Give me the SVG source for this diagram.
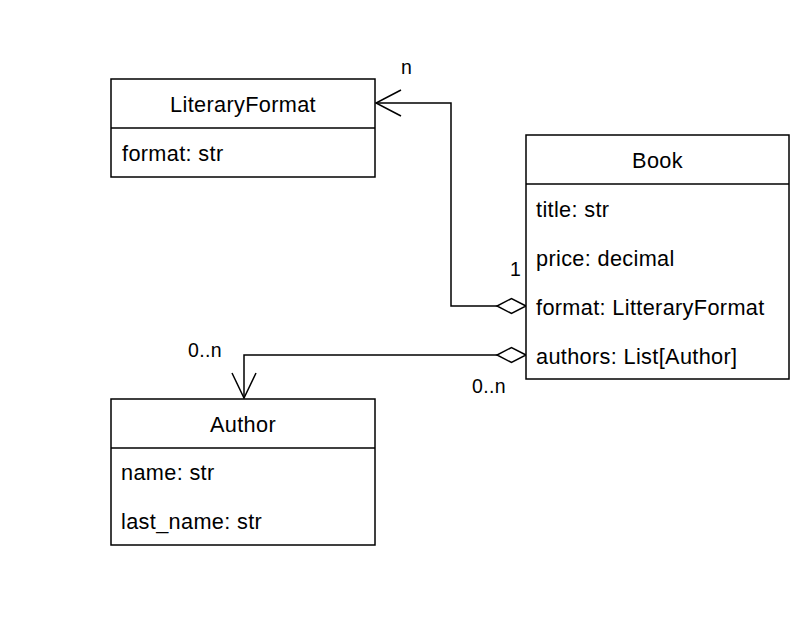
<svg xmlns="http://www.w3.org/2000/svg" width="796" height="620" viewBox="0 0 796 620">
<style>
.box{fill:#fff;stroke:#000;stroke-width:1.5}
.ln{fill:none;stroke:#000;stroke-width:1.5}
text{font-family:"Liberation Sans",Arial,sans-serif;font-size:21.7px;letter-spacing:0.35px;fill:#000}
.t{text-anchor:middle}
.lbl{font-size:19.5px}
</style>
<rect width="796" height="620" fill="#fff"/>
<g id="connectors">
<path class="ln" d="M497,306 H451 V103 H376"/>
<path class="ln" d="M401,90 L376,103 L401,116"/>
<path class="box" d="M526,306 L511.5,298.5 L497,306 L511.5,313.5 Z"/>
<path class="ln" d="M497,355 H244 V398"/>
<path class="ln" d="M232,373 L244,398 L256,373"/>
<path class="box" d="M526,355 L511.5,347.5 L497,355 L511.5,362.5 Z"/>
<text class="lbl" x="401" y="74">n</text>
<text class="lbl" x="510" y="276">1</text>
<text class="lbl" x="188" y="357">0..n</text>
<text class="lbl" x="472" y="393">0..n</text>
</g>
<g id="LiteraryFormat">
<rect class="box" x="111" y="79" width="264" height="98"/>
<line class="ln" x1="111" y1="128" x2="375" y2="128"/>
<text class="t" x="243" y="112">LiteraryFormat</text>
<text x="122" y="161">format: str</text>
</g>
<g id="Book">
<rect class="box" x="526" y="135" width="263" height="244"/>
<line class="ln" x1="526" y1="184" x2="789" y2="184"/>
<text class="t" x="657.5" y="168">Book</text>
<text x="536" y="217">title: str</text>
<text x="536" y="266">price: decimal</text>
<text x="536" y="315">format: LitteraryFormat</text>
<text x="536" y="364">authors: List[Author]</text>
</g>
<g id="Author">
<rect class="box" x="111" y="399" width="264" height="146"/>
<line class="ln" x1="111" y1="448" x2="375" y2="448"/>
<text class="t" x="243" y="432">Author</text>
<text x="121" y="480">name: str</text>
<text x="121" y="529">last_name: str</text>
</g>
</svg>
